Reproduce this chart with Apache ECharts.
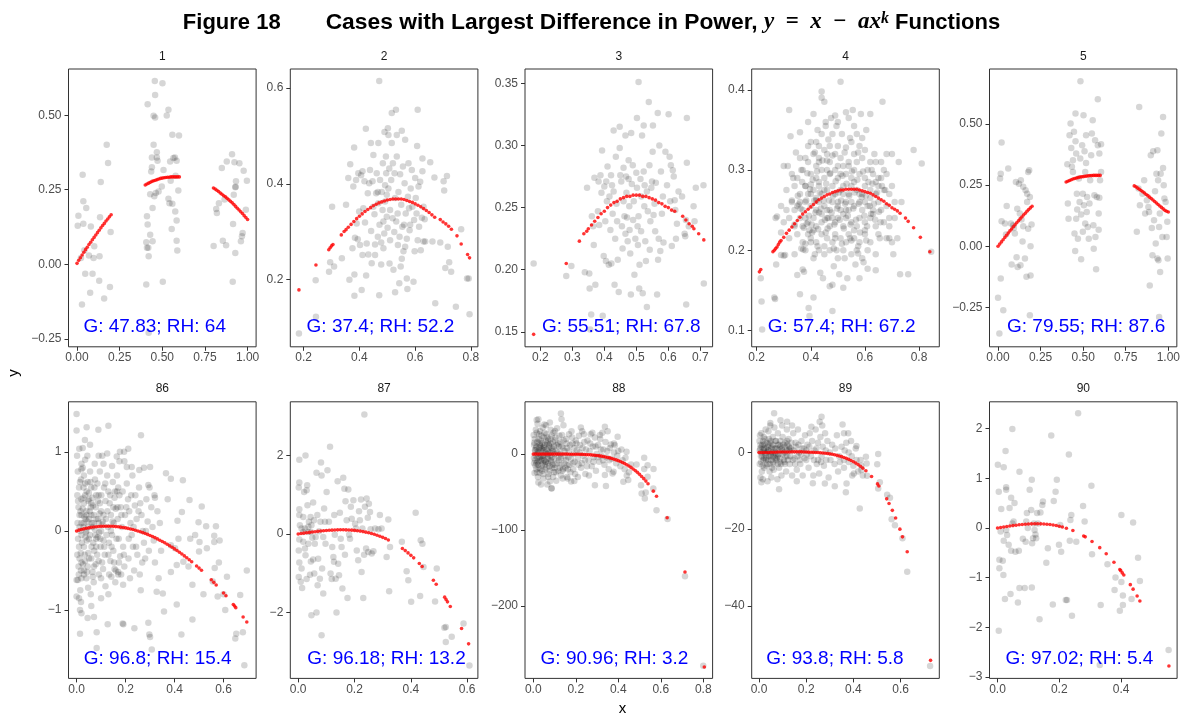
<!DOCTYPE html>
<html>
<head>
<meta charset="utf-8">
<script src="https://cdn.jsdelivr.net/npm/echarts@6/dist/echarts.min.js"></script>
<style>html,body{margin:0;padding:0;background:#fff;}#chart{width:1183px;height:715px;}</style>
</head>
<body>
<div id="chart"></div>
<script>
// ---------------- DATA ----------------
const PANEL_NAMES = ['1','2','3','4','5','86','87','88','89','90'];
const ANNOTATIONS = ['G: 47.83; RH: 64','G: 37.4; RH: 52.2','G: 55.51; RH: 67.8','G: 57.4; RH: 67.2','G: 79.55; RH: 87.6',
  'G: 96.8; RH: 15.4','G: 96.18; RH: 13.2','G: 90.96; RH: 3.2','G: 93.8; RH: 5.8','G: 97.02; RH: 5.4'];
const X_TICK_LABELS = [
  ['0.00','0.25','0.50','0.75','1.00'], ['0.2','0.4','0.6','0.8'], ['0.2','0.3','0.4','0.5','0.6','0.7'],
  ['0.2','0.4','0.6','0.8'], ['0.00','0.25','0.50','0.75','1.00'],
  ['0.0','0.2','0.4','0.6'], ['0.0','0.2','0.4','0.6'], ['0.0','0.2','0.4','0.6','0.8'],
  ['0.0','0.2','0.4','0.6'], ['0.0','0.2','0.4']];
const Y_TICK_LABELS = [
  ['−0.25','0.00','0.25','0.50'], ['0.2','0.4','0.6'], ['0.15','0.20','0.25','0.30','0.35'],
  ['0.1','0.2','0.3','0.4'], ['−0.25','0.00','0.25','0.50'],
  ['−1','0','1'], ['−2','0','2'], ['−200','−100','0'], ['−40','−20','0'], ['−3','−2','−1','0','1','2']];

const P1_OBS = [[0.004,0.129],[0.008,0.163],[0.029,-0.135],[0.033,0.300],[0.037,0.211],[0.037,0.136],[0.043,0.047],[0.048,-0.032],[0.054,0.189],[0.070,0.029],[0.081,0.127],[0.077,-0.096],[0.091,-0.032],[0.101,0.060],[0.097,0.021],[0.130,-0.055],[0.132,0.027],[0.135,0.158],[0.139,0.276],[0.159,-0.115],[0.174,0.401],[0.182,0.340],[0.193,-0.076],[0.197,0.108],[0.023,0.021],
 [0.406,-0.068],[0.410,0.161],[0.414,0.537],[0.414,0.133],[0.406,0.074],[0.410,0.055],[0.418,0.055],[0.420,0.027],[0.429,0.235],[0.429,0.099],[0.435,0.311],[0.439,0.325],[0.439,0.358],[0.443,0.189],[0.443,0.077],[0.449,0.401],[0.449,0.498],[0.456,0.615],[0.458,0.492],[0.458,0.568],[0.453,0.228],[0.462,0.239],[0.468,0.376],[0.468,0.358],[0.472,0.347],[0.420,-0.230],[0.497,0.261],[0.501,0.607],[0.503,-0.059],[0.507,0.316],[0.526,0.499],[0.536,0.518],[0.536,0.220],[0.542,0.205],[0.546,0.345],[0.549,0.280],[0.555,0.118],[0.559,0.203],[0.559,0.434],[0.565,0.356],[0.574,0.358],[0.576,0.177],[0.584,0.347],[0.584,0.147],[0.584,0.079],[0.588,0.046],[0.594,0.247],[0.598,0.432],[0.578,0.297],[0.478,0.244],
 [0.801,0.061],[0.816,0.185],[0.820,0.172],[0.832,0.205],[0.849,0.323],[0.855,0.079],[0.865,0.217],[0.874,0.064],[0.878,0.345],[0.909,0.369],[0.913,-0.059],[0.915,0.135],[0.919,0.233],[0.923,0.342],[0.928,0.038],[0.928,0.258],[0.930,0.260],[0.932,0.278],[0.952,0.339],[0.961,0.077],[0.967,0.094],[0.971,0.105],[0.977,0.314],[0.990,0.183],[0.996,0.280]];
const P1_FIT = [[0,0.003],[0.01,0.013],[0.02,0.022],[0.03,0.031],[0.04,0.040],[0.05,0.049],[0.06,0.057],[0.07,0.066],[0.08,0.074],[0.09,0.082],[0.10,0.090],[0.11,0.098],[0.12,0.106],[0.13,0.114],[0.14,0.122],[0.15,0.130],[0.16,0.137],[0.17,0.145],[0.18,0.152],[0.19,0.159],[0.20,0.166],
 [0.40,0.266],[0.41,0.269],[0.42,0.272],[0.43,0.275],[0.44,0.278],[0.45,0.280],[0.46,0.282],[0.47,0.284],[0.48,0.286],[0.49,0.288],[0.50,0.289],[0.51,0.290],[0.52,0.291],[0.53,0.292],[0.54,0.292],[0.55,0.293],[0.56,0.293],[0.57,0.293],[0.58,0.293],[0.59,0.293],[0.60,0.293],
 [0.80,0.256],[0.81,0.252],[0.82,0.248],[0.83,0.244],[0.84,0.239],[0.85,0.235],[0.86,0.230],[0.87,0.226],[0.88,0.221],[0.89,0.216],[0.90,0.211],[0.91,0.206],[0.92,0.200],[0.93,0.194],[0.94,0.188],[0.95,0.182],[0.96,0.176],[0.97,0.170],[0.98,0.163],[0.99,0.157],[1.00,0.150]];

const P2_OBS = [[0.183,0.087],[0.243,0.198],[0.244,0.122],[0.291,0.216],[0.295,0.236],[0.302,0.352],[0.309,0.227],[0.337,0.244],[0.352,0.356],[0.360,0.412],[0.364,0.199],[0.367,0.441],[0.375,0.265],[0.378,0.394],[0.381,0.476],[0.382,0.210],[0.382,0.166],[0.384,0.287],[0.388,0.408],[0.390,0.317],[0.394,0.284],[0.396,0.422],[0.399,0.342],[0.402,0.272],[0.406,0.418],[0.408,0.178],[0.411,0.426],[0.411,0.251],[0.414,0.349],[0.418,0.405],[0.420,0.319],[0.423,0.515],[0.424,0.208],[0.426,0.275],[0.430,0.380],[0.432,0.252],[0.435,0.401],[0.438,0.429],[0.441,0.485],[0.442,0.301],[0.444,0.234],[0.447,0.405],[0.450,0.460],[0.450,0.352],[0.454,0.336],[0.456,0.273],[0.456,0.251],[0.460,0.380],[0.462,0.422],[0.466,0.383],[0.466,0.289],[0.468,0.485],[0.468,0.359],[0.471,0.615],[0.471,0.167],[0.472,0.314],[0.474,0.408],[0.478,0.277],[0.478,0.231],[0.480,0.383],[0.483,0.345],[0.484,0.443],[0.486,0.321],[0.486,0.265],[0.489,0.296],[0.490,0.508],[0.492,0.397],[0.492,0.363],[0.495,0.457],[0.496,0.422],[0.498,0.377],[0.498,0.331],[0.501,0.308],[0.502,0.516],[0.504,0.390],[0.504,0.502],[0.507,0.432],[0.508,0.233],[0.510,0.345],[0.510,0.282],[0.514,0.408],[0.516,0.485],[0.516,0.548],[0.519,0.328],[0.520,0.443],[0.522,0.220],[0.525,0.299],[0.526,0.422],[0.528,0.173],[0.528,0.370],[0.531,0.555],[0.532,0.321],[0.534,0.502],[0.534,0.457],[0.537,0.338],[0.538,0.272],[0.540,0.383],[0.543,0.192],[0.544,0.289],[0.546,0.420],[0.548,0.227],[0.550,0.356],[0.552,0.511],[0.552,0.243],[0.554,0.310],[0.556,0.436],[0.558,0.259],[0.560,0.314],[0.562,0.401],[0.564,0.492],[0.564,0.268],[0.566,0.338],[0.570,0.202],[0.570,0.285],[0.572,0.180],[0.574,0.373],[0.576,0.443],[0.578,0.349],[0.580,0.303],[0.582,0.314],[0.584,0.390],[0.588,0.429],[0.590,0.352],[0.594,0.195],[0.596,0.324],[0.598,0.259],[0.600,0.412],[0.602,0.370],[0.605,0.338],[0.607,0.479],[0.609,0.282],[0.609,0.555],[0.612,0.394],[0.614,0.310],[0.618,0.404],[0.620,0.261],[0.624,0.329],[0.626,0.453],[0.626,0.426],[0.630,0.352],[0.630,0.279],[0.634,0.326],[0.636,0.279],[0.654,0.445],[0.662,0.279],[0.669,0.413],[0.672,0.150],[0.690,0.277],[0.702,0.405],[0.704,0.386],[0.708,0.224],[0.714,0.416],[0.717,0.268],[0.722,0.236],[0.729,0.216],[0.746,0.143],[0.765,0.305],[0.786,0.202],[0.792,0.202],[0.795,0.127]];
const P2_FIT = [[0.183,0.178],[0.244,0.230],[0.290,0.262],[0.295,0.266],[0.300,0.270],[0.305,0.273],[0.335,0.293],[0.345,0.300],[0.352,0.304],[0.36,0.309],[0.37,0.315],[0.38,0.321],[0.39,0.327],[0.40,0.332],[0.41,0.337],[0.42,0.342],[0.43,0.346],[0.44,0.350],[0.45,0.354],[0.46,0.357],[0.47,0.360],[0.48,0.362],[0.49,0.364],[0.50,0.366],[0.51,0.367],[0.52,0.368],[0.53,0.368],[0.54,0.368],[0.55,0.368],[0.56,0.367],[0.57,0.365],[0.58,0.363],[0.59,0.361],[0.60,0.358],[0.61,0.355],[0.62,0.352],[0.63,0.348],[0.64,0.344],[0.65,0.340],[0.66,0.335],[0.67,0.330],[0.69,0.325],[0.70,0.320],[0.71,0.316],[0.72,0.311],[0.73,0.305],[0.75,0.291],[0.765,0.274],[0.788,0.252],[0.795,0.245]];

const P3_OBS = [[0.179,0.205],[0.281,0.195],[0.297,0.203],[0.339,0.198],[0.346,0.266],[0.353,0.197],[0.354,0.185],[0.359,0.164],[0.361,0.243],[0.365,0.235],[0.367,0.220],[0.369,0.274],[0.372,0.188],[0.380,0.247],[0.382,0.271],[0.384,0.236],[0.388,0.276],[0.391,0.262],[0.393,0.296],[0.395,0.163],[0.398,0.211],[0.400,0.267],[0.403,0.239],[0.405,0.207],[0.406,0.271],[0.408,0.255],[0.410,0.283],[0.414,0.204],[0.416,0.259],[0.419,0.232],[0.421,0.276],[0.422,0.205],[0.424,0.268],[0.426,0.245],[0.429,0.312],[0.429,0.263],[0.432,0.188],[0.434,0.225],[0.436,0.291],[0.438,0.253],[0.440,0.239],[0.442,0.208],[0.445,0.182],[0.448,0.298],[0.448,0.315],[0.450,0.276],[0.453,0.271],[0.455,0.235],[0.457,0.217],[0.460,0.255],[0.460,0.282],[0.463,0.243],[0.466,0.229],[0.466,0.308],[0.468,0.275],[0.469,0.262],[0.471,0.242],[0.473,0.223],[0.476,0.273],[0.476,0.288],[0.478,0.251],[0.479,0.232],[0.481,0.213],[0.483,0.180],[0.484,0.310],[0.486,0.269],[0.489,0.284],[0.490,0.240],[0.492,0.255],[0.494,0.196],[0.497,0.225],[0.500,0.278],[0.502,0.266],[0.502,0.322],[0.504,0.235],[0.505,0.220],[0.507,0.351],[0.507,0.243],[0.509,0.185],[0.510,0.204],[0.513,0.273],[0.515,0.231],[0.516,0.259],[0.518,0.308],[0.520,0.181],[0.523,0.316],[0.523,0.279],[0.525,0.251],[0.526,0.268],[0.528,0.223],[0.530,0.207],[0.533,0.170],[0.533,0.263],[0.536,0.247],[0.539,0.335],[0.541,0.284],[0.542,0.216],[0.544,0.239],[0.547,0.266],[0.549,0.271],[0.551,0.295],[0.552,0.316],[0.554,0.244],[0.557,0.253],[0.559,0.231],[0.561,0.270],[0.565,0.180],[0.567,0.326],[0.568,0.208],[0.570,0.225],[0.572,0.300],[0.575,0.215],[0.577,0.279],[0.580,0.245],[0.583,0.259],[0.585,0.222],[0.591,0.295],[0.596,0.268],[0.601,0.325],[0.604,0.291],[0.606,0.255],[0.608,0.284],[0.611,0.219],[0.614,0.280],[0.617,0.275],[0.620,0.256],[0.622,0.248],[0.624,0.225],[0.627,0.237],[0.632,0.263],[0.643,0.259],[0.651,0.229],[0.653,0.227],[0.655,0.240],[0.656,0.172],[0.658,0.286],[0.658,0.322],[0.664,0.235],[0.679,0.251],[0.682,0.239],[0.686,0.266],[0.710,0.268],[0.711,0.189],[0.356,0.152]];
const P3_FIT = [[0.179,0.148],[0.281,0.205],[0.322,0.223],[0.336,0.229],[0.345,0.231],[0.35,0.233],[0.36,0.236],[0.37,0.239],[0.38,0.242],[0.39,0.245],[0.40,0.247],[0.41,0.250],[0.42,0.252],[0.43,0.254],[0.44,0.255],[0.45,0.257],[0.46,0.258],[0.47,0.259],[0.48,0.259],[0.49,0.260],[0.50,0.260],[0.51,0.260],[0.52,0.259],[0.53,0.259],[0.54,0.258],[0.55,0.257],[0.56,0.256],[0.57,0.254],[0.58,0.253],[0.59,0.251],[0.60,0.250],[0.61,0.248],[0.62,0.247],[0.645,0.243],[0.655,0.240],[0.665,0.237],[0.675,0.235],[0.68,0.233],[0.695,0.229],[0.711,0.224]];

const P4_OBS = [[0.215,0.165],[0.218,0.136],[0.22,0.101],[0.265,0.141],[0.268,0.139],[0.272,0.182],[0.27,0.24],[0.275,0.242],[0.29,0.222],[0.29,0.194],[0.30,0.193],[0.305,0.194],[0.30,0.305],[0.315,0.305],[0.32,0.375],[0.325,0.342],[0.33,0.262],[0.335,0.29],[0.34,0.25],[0.34,0.232],[0.345,0.322],[0.35,0.169],[0.355,0.257],[0.36,0.347],[0.36,0.145],[0.365,0.202],[0.37,0.176],[0.372,0.201],[0.375,0.173],[0.38,0.28],[0.38,0.315],[0.385,0.233],[0.39,0.36],[0.39,0.33],[0.392,0.128],[0.395,0.118],[0.40,0.282],[0.40,0.21],[0.405,0.222],[0.41,0.37],[0.41,0.141],[0.415,0.195],[0.42,0.335],[0.42,0.262],[0.425,0.35],[0.43,0.247],[0.43,0.31],[0.435,0.172],[0.44,0.398],[0.44,0.39],[0.445,0.165],[0.45,0.385],[0.45,0.205],[0.455,0.36],[0.46,0.32],[0.465,0.24],[0.47,0.155],[0.475,0.365],[0.48,0.157],[0.48,0.124],[0.485,0.18],[0.49,0.368],[0.495,0.2],[0.50,0.36],[0.505,0.17],[0.51,0.41],[0.515,0.345],[0.52,0.153],[0.525,0.19],[0.53,0.372],[0.535,0.165],[0.54,0.365],[0.545,0.34],[0.55,0.212],[0.555,0.375],[0.56,0.355],[0.565,0.182],[0.57,0.345],[0.575,0.196],[0.58,0.165],[0.585,0.37],[0.59,0.34],[0.595,0.185],[0.60,0.225],[0.605,0.35],[0.61,0.177],[0.62,0.37],[0.625,0.30],[0.63,0.245],[0.635,0.32],[0.64,0.175],[0.65,0.29],[0.655,0.215],[0.66,0.31],[0.665,0.385],[0.67,0.30],[0.675,0.275],[0.68,0.32],[0.69,0.215],[0.69,0.23],[0.70,0.32],[0.705,0.195],[0.71,0.24],[0.72,0.215],[0.725,0.31],[0.73,0.17],[0.735,0.26],[0.76,0.17],[0.78,0.325],[0.81,0.308],[0.845,0.198],
 [0.40,0.335],[0.43,0.33],[0.45,0.325],[0.47,0.33],[0.49,0.32],[0.50,0.33],[0.53,0.328],[0.55,0.335],[0.58,0.33],[0.60,0.325],[0.44,0.345],[0.48,0.345],
 [0.36,0.315],[0.39,0.31],[0.41,0.32],[0.43,0.315],[0.46,0.312],[0.48,0.318],[0.51,0.315],[0.52,0.305],[0.54,0.31],[0.56,0.32],[0.57,0.31],[0.59,0.315],[0.62,0.31],[0.64,0.31],
 [0.33,0.295],[0.35,0.29],[0.37,0.30],[0.40,0.295],[0.42,0.29],[0.44,0.30],[0.45,0.29],[0.47,0.295],[0.49,0.30],[0.50,0.29],[0.53,0.295],[0.55,0.29],[0.56,0.30],[0.58,0.295],[0.60,0.29],[0.61,0.30],[0.63,0.295],[0.66,0.29],[0.68,0.295],
 [0.31,0.275],[0.34,0.28],[0.36,0.27],[0.38,0.28],[0.39,0.27],[0.41,0.275],[0.43,0.28],[0.44,0.27],[0.46,0.275],[0.48,0.28],[0.49,0.27],[0.51,0.275],[0.52,0.28],[0.54,0.27],[0.55,0.28],[0.57,0.275],[0.59,0.27],[0.60,0.28],[0.62,0.275],[0.64,0.27],[0.65,0.28],[0.67,0.275],[0.69,0.27],[0.70,0.28],
 [0.29,0.255],[0.31,0.25],[0.33,0.26],[0.35,0.255],[0.37,0.25],[0.38,0.26],[0.40,0.255],[0.42,0.25],[0.43,0.26],[0.45,0.255],[0.46,0.25],[0.48,0.26],[0.50,0.255],[0.51,0.25],[0.53,0.26],[0.54,0.25],[0.56,0.255],[0.58,0.26],[0.59,0.25],[0.61,0.255],[0.63,0.25],[0.65,0.26],[0.66,0.25],[0.68,0.255],[0.71,0.26],
 [0.30,0.235],[0.32,0.24],[0.34,0.23],[0.36,0.24],[0.37,0.23],[0.39,0.235],[0.41,0.24],[0.42,0.23],[0.44,0.235],[0.46,0.24],[0.47,0.23],[0.49,0.235],[0.50,0.24],[0.52,0.23],[0.53,0.24],[0.55,0.235],[0.57,0.23],[0.58,0.24],[0.60,0.235],[0.62,0.24],[0.64,0.23],[0.67,0.235],[0.69,0.24],
 [0.32,0.215],[0.35,0.22],[0.37,0.21],[0.39,0.22],[0.40,0.215],[0.42,0.21],[0.44,0.22],[0.46,0.215],[0.48,0.21],[0.49,0.22],[0.51,0.215],[0.53,0.21],[0.54,0.22],[0.56,0.215],[0.58,0.21],[0.60,0.22],[0.62,0.21],[0.65,0.22],[0.68,0.215],[0.70,0.21],
 [0.34,0.195],[0.38,0.20],[0.41,0.19],[0.43,0.20],[0.45,0.195],[0.47,0.20],[0.50,0.19],[0.52,0.20],[0.55,0.195],[0.57,0.20],[0.59,0.19],[0.61,0.20],[0.64,0.195],
 [0.40,0.27],[0.42,0.265],[0.45,0.275],[0.47,0.25],[0.50,0.26],[0.52,0.27],[0.55,0.26],[0.44,0.245],[0.48,0.24],[0.53,0.25],[0.46,0.30],[0.51,0.295],[0.56,0.285],[0.38,0.24],[0.36,0.26],[0.58,0.27],[0.60,0.26],[0.42,0.305],[0.54,0.305],[0.41,0.225],[0.49,0.215],[0.56,0.225],[0.62,0.265],[0.64,0.285],[0.47,0.31],[0.50,0.305],[0.43,0.285],[0.52,0.245],
 [0.352,0.268],[0.362,0.252],[0.368,0.285],[0.374,0.228],[0.383,0.262],[0.387,0.296],[0.393,0.243],[0.397,0.276],[0.403,0.232],[0.407,0.288],[0.413,0.262],[0.417,0.247],[0.423,0.298],[0.427,0.226],[0.433,0.272],[0.437,0.252],[0.443,0.312],[0.447,0.262],[0.452,0.238],[0.457,0.283],[0.462,0.227],[0.467,0.262],[0.472,0.296],[0.477,0.247],[0.482,0.268],[0.487,0.232],[0.492,0.286],[0.497,0.252],[0.503,0.272],[0.507,0.238],[0.512,0.262],[0.517,0.293],[0.522,0.227],[0.527,0.258],[0.532,0.283],[0.537,0.243],[0.542,0.268],[0.547,0.232],[0.552,0.298],[0.557,0.252],[0.562,0.272],[0.567,0.238],[0.572,0.288],[0.577,0.258],[0.582,0.222],[0.588,0.266],[0.593,0.298],[0.598,0.243],[0.603,0.268],[0.608,0.23],[0.613,0.285],[0.618,0.255],[0.623,0.245],[0.628,0.283],[0.633,0.258],[0.638,0.238],[0.645,0.272],[0.652,0.248],[0.658,0.235],[0.663,0.28],[0.38,0.208],[0.395,0.225],[0.425,0.205],[0.455,0.222],[0.485,0.202],[0.515,0.208],[0.545,0.215],[0.575,0.205],[0.605,0.212],[0.365,0.3],[0.415,0.322],[0.465,0.338],[0.525,0.322],[0.575,0.322],[0.495,0.355],[0.455,0.355]];
const P4_FIT = [[0.21,0.173],[0.215,0.176],[0.26,0.198],[0.265,0.200],[0.27,0.202],[0.275,0.204],[0.28,0.207],[0.285,0.210],[0.29,0.212],[0.30,0.216],[0.31,0.221],[0.32,0.225],[0.33,0.229],[0.34,0.233],[0.35,0.237],[0.36,0.241],[0.37,0.245],[0.38,0.248],[0.39,0.251],[0.40,0.254],[0.41,0.257],[0.42,0.260],[0.43,0.263],[0.44,0.265],[0.45,0.267],[0.46,0.269],[0.47,0.270],[0.48,0.272],[0.49,0.273],[0.50,0.274],[0.51,0.275],[0.52,0.275],[0.53,0.276],[0.54,0.276],[0.55,0.276],[0.56,0.276],[0.57,0.276],[0.58,0.275],[0.59,0.274],[0.60,0.273],[0.61,0.272],[0.62,0.271],[0.63,0.269],[0.64,0.267],[0.65,0.265],[0.66,0.263],[0.67,0.261],[0.68,0.258],[0.69,0.256],[0.70,0.253],[0.71,0.251],[0.72,0.249],[0.73,0.246],[0.75,0.240],[0.76,0.236],[0.78,0.228],[0.805,0.216],[0.84,0.198]];

const P5_OBS = [[0.000,-0.210],[0.008,-0.357],[0.012,0.277],[0.016,0.297],[0.021,0.424],[0.016,-0.132],[0.021,0.102],[0.031,-0.262],[0.041,0.093],[0.047,0.048],[0.051,0.165],[0.060,0.318],[0.076,0.093],[0.080,-0.074],[0.089,0.086],[0.093,0.075],[0.099,0.052],[0.105,0.263],[0.109,-0.045],[0.113,0.154],[0.115,-0.085],[0.123,0.256],[0.128,0.134],[0.132,-0.078],[0.134,0.270],[0.138,0.110],[0.144,0.020],[0.148,0.082],[0.148,0.243],[0.158,-0.050],[0.162,0.229],[0.167,-0.125],[0.171,0.181],[0.177,0.072],[0.177,0.304],[0.183,0.311],[0.187,0.202],[0.191,-0.119],[0.191,0.000],[0.197,0.089],[0.187,-0.282],[0.171,0.215],
 [0.407,0.335],[0.410,0.175],[0.414,0.113],[0.420,0.454],[0.426,0.502],[0.430,0.402],[0.434,0.325],[0.440,0.352],[0.440,0.304],[0.446,0.468],[0.449,0.052],[0.453,-0.019],[0.455,0.543],[0.455,0.430],[0.459,0.379],[0.459,0.113],[0.463,0.215],[0.465,0.150],[0.469,0.031],[0.475,0.277],[0.479,0.181],[0.483,0.359],[0.484,0.675],[0.488,0.130],[0.488,-0.053],[0.494,0.413],[0.498,0.215],[0.498,0.059],[0.502,0.536],[0.504,0.168],[0.508,0.389],[0.512,0.304],[0.512,0.093],[0.517,0.341],[0.517,0.454],[0.521,0.140],[0.523,0.202],[0.527,0.079],[0.533,0.031],[0.537,0.175],[0.541,0.270],[0.547,0.372],[0.551,0.461],[0.556,0.515],[0.560,0.086],[0.562,-0.010],[0.566,0.209],[0.570,0.434],[0.572,0.038],[0.576,-0.094],[0.580,0.202],[0.586,0.413],[0.586,0.601],[0.591,0.068],[0.595,0.379],[0.599,0.270],[0.595,0.198],[0.591,0.134],[0.605,0.417],[0.605,0.304],
 [0.815,0.059],[0.829,0.570],[0.825,0.236],[0.833,0.168],[0.848,0.215],[0.858,0.270],[0.864,0.134],[0.874,0.188],[0.883,0.161],[0.887,0.140],[0.891,-0.160],[0.897,0.372],[0.903,0.075],[0.907,-0.037],[0.911,0.389],[0.916,0.106],[0.922,0.225],[0.926,0.011],[0.930,0.297],[0.936,0.393],[0.936,-0.050],[0.940,0.270],[0.942,-0.057],[0.946,0.079],[0.950,0.134],[0.952,-0.105],[0.955,0.297],[0.959,0.461],[0.965,0.038],[0.969,0.529],[0.969,0.320],[0.973,0.250],[0.977,0.195],[0.984,0.181],[0.990,0.038],[0.994,0.100],[0.996,-0.050],[0.946,-0.289]];
const P5_FIT = [[0,0.0],[0.01,0.009],[0.02,0.018],[0.03,0.027],[0.04,0.036],[0.05,0.045],[0.06,0.054],[0.07,0.063],[0.08,0.071],[0.09,0.080],[0.10,0.088],[0.11,0.096],[0.12,0.104],[0.13,0.112],[0.14,0.120],[0.15,0.128],[0.16,0.135],[0.17,0.143],[0.18,0.150],[0.19,0.157],[0.20,0.164],
 [0.40,0.263],[0.41,0.266],[0.42,0.269],[0.43,0.272],[0.44,0.275],[0.45,0.277],[0.46,0.279],[0.47,0.281],[0.48,0.283],[0.49,0.284],[0.50,0.285],[0.51,0.286],[0.52,0.287],[0.53,0.288],[0.54,0.289],[0.55,0.289],[0.56,0.290],[0.57,0.290],[0.58,0.290],[0.59,0.290],[0.60,0.290],
 [0.80,0.247],[0.81,0.243],[0.82,0.238],[0.83,0.233],[0.84,0.228],[0.85,0.223],[0.86,0.218],[0.87,0.212],[0.88,0.207],[0.89,0.201],[0.90,0.195],[0.91,0.189],[0.92,0.183],[0.93,0.177],[0.94,0.171],[0.95,0.165],[0.96,0.159],[0.97,0.153],[0.98,0.147],[0.99,0.143],[1.00,0.140]];

const P86_OBS = [[0.0,1.48],[0.0,1.27],[0.011,1.04],[0.041,1.31],[0.034,1.15],[0.055,1.09],[0.089,1.28],[0.130,1.33],[0.125,0.98],[0.164,0.94],[0.177,1.0],[0.194,1.0],[0.211,1.04],[0.195,0.88],[0.205,0.81],[0.225,0.81],[0.263,1.21],[0.256,0.77],[0.275,0.8],[0.30,0.81],[0.365,0.73],[0.385,0.66],[0.434,0.64],[0.293,0.58],[0.372,0.40],[0.32,0.42],[0.412,0.13],[0.43,0.24],[0.461,0.39],[0.511,0.31],[0.498,0.11],[0.529,0.06],[0.569,0.06],[0.484,-0.05],[0.502,-0.14],[0.464,-0.10],[0.416,-0.10],[0.385,-0.18],[0.402,-0.22],[0.436,-0.39],[0.409,-0.43],[0.385,-0.52],[0.457,-0.45],[0.50,-0.26],[0.562,-0.14],[0.564,-0.47],[0.581,-0.40],[0.556,-0.64],[0.60,-0.80],[0.607,-1.0],[0.614,-0.58],[0.576,-0.83],[0.518,-0.80],[0.473,-0.68],[0.473,-1.12],[0.428,-1.31],[0.409,-0.93],[0.352,-0.79],[0.357,-1.02],[0.327,-0.77],[0.293,-1.16],[0.297,-1.31],[0.30,-1.34],[0.307,-1.50],[0.236,-1.23],[0.188,-1.17],[0.191,-1.18],[0.127,-1.18],[0.082,-1.28],[0.082,-1.48],[0.071,-1.09],[0.014,-1.30],[0.014,-1.0],[0.02,-1.04],[0.0,-0.62],[0.0,-0.83],[0.685,-1.70],[0.652,-1.30],[0.648,-1.36],[0.679,-1.28],[0.695,-0.50],[0.668,-0.81],[0.532,-0.22],[0.584,-0.12],[0.562,-0.06],
 [0.002,0.95],[0.005,0.75],[0.01,0.55],[0.003,0.45],[0.008,0.3],[0.012,0.2],[0.004,0.1],[0.015,0.0],[0.006,-0.1],[0.01,-0.2],[0.003,-0.3],[0.012,-0.35],[0.008,-0.45],[0.018,-0.5],[0.005,-0.62],[0.015,-0.75],[0.01,-0.85],[0.02,0.85],[0.018,0.65],[0.02,0.4],[0.016,0.25],[0.02,0.1],[0.02,-0.05],[0.017,-0.28],[0.02,-0.6],
 [0.025,0.8],[0.03,0.7],[0.028,0.55],[0.035,0.45],[0.03,0.35],[0.04,0.25],[0.032,0.18],[0.045,0.12],[0.028,0.05],[0.038,-0.02],[0.042,-0.12],[0.03,-0.2],[0.048,-0.28],[0.035,-0.38],[0.045,-0.45],[0.03,-0.55],[0.04,-0.6],[0.047,-0.72],[0.035,0.9],[0.045,0.62],[0.048,0.38],[0.025,0.28],[0.04,0.2],[0.036,-0.08],[0.026,-0.42],[0.044,0.95],
 [0.055,0.75],[0.06,0.55],[0.065,0.42],[0.058,0.3],[0.07,0.2],[0.062,0.1],[0.075,0.02],[0.055,-0.05],[0.068,-0.15],[0.072,-0.25],[0.06,-0.35],[0.078,-0.42],[0.065,-0.52],[0.07,-0.65],[0.058,-0.8],[0.075,0.65],[0.08,0.45],[0.052,0.15],[0.078,0.3],[0.066,-0.58],[0.05,0.48],[0.08,-0.1],[0.074,0.85],
 [0.085,0.6],[0.09,0.45],[0.095,0.35],[0.1,0.25],[0.088,0.15],[0.105,0.08],[0.092,-0.02],[0.11,-0.12],[0.098,-0.2],[0.115,-0.3],[0.09,-0.38],[0.108,-0.48],[0.1,-0.6],[0.118,-0.7],[0.095,0.75],[0.112,0.55],[0.118,0.38],[0.086,-0.08],[0.12,0.15],[0.1,-0.85],[0.105,0.95],
 [0.125,0.7],[0.13,0.5],[0.135,0.35],[0.14,0.2],[0.128,0.05],[0.145,-0.05],[0.132,-0.15],[0.15,-0.25],[0.138,-0.38],[0.155,-0.48],[0.142,-0.58],[0.158,-0.65],[0.148,0.62],[0.155,0.42],[0.16,0.28],[0.152,0.1],[0.145,0.82],[0.13,-0.8],
 [0.165,0.7],[0.17,0.55],[0.175,0.45],[0.18,0.3],[0.168,0.15],[0.185,0.05],[0.172,-0.1],[0.19,-0.2],[0.178,-0.32],[0.195,-0.45],[0.182,-0.55],[0.17,-0.52],[0.188,0.5],[0.198,0.2],[0.175,0.88],[0.19,-0.68],
 [0.205,0.6],[0.21,0.4],[0.215,0.25],[0.22,0.1],[0.225,-0.05],[0.23,-0.2],[0.212,-0.35],[0.235,-0.5],[0.24,0.45],[0.245,0.15],[0.218,-0.6],[0.228,0.7],[0.248,-0.3],[0.238,0.32],
 [0.255,0.55],[0.26,0.35],[0.265,0.2],[0.27,0.0],[0.275,-0.15],[0.28,-0.35],[0.258,-0.55],[0.285,0.4],[0.29,0.12],[0.295,-0.25],[0.262,-0.75],[0.298,0.55],
 [0.305,0.3],[0.31,0.05],[0.315,-0.12],[0.32,-0.4],[0.33,0.25],[0.335,-0.6],[0.34,0.1],[0.345,-0.25],[0.318,0.45],
 [0.02,0.2],[0.03,0.1],[0.04,0.0],[0.05,-0.1],[0.06,0.2],[0.07,0.1],[0.08,-0.2],[0.09,0.1],[0.1,0.0],[0.11,0.2],[0.13,-0.3],[0.14,0.0],[0.16,-0.5],[0.17,-0.55],[0.02,-0.4],[0.03,-0.5],[0.05,0.4],[0.06,0.35],[0.15,0.3],[0.165,0.5],[0.02,0.78],[0.035,0.6],
 [0.006,0.38],[0.012,0.05],[0.009,-0.55],[0.014,0.62],[0.022,-0.15],[0.027,0.42],[0.033,-0.3],[0.037,0.15],[0.041,0.5],[0.043,-0.52],[0.047,0.05],[0.051,-0.35],[0.054,0.25],[0.057,0.62],[0.061,-0.2],[0.064,0.05],[0.067,0.32],[0.071,-0.45],[0.073,0.55],[0.077,-0.05],[0.081,0.15],[0.084,-0.3],[0.087,0.38],[0.091,-0.55],[0.094,0.22],[0.097,-0.1],[0.101,0.45],[0.104,-0.4],[0.107,0.12],[0.113,-0.2],[0.117,0.6],[0.122,-0.05],[0.126,0.25],[0.133,-0.55],[0.137,0.45],[0.143,-0.2],[0.147,0.12],[0.153,-0.4],[0.157,0.5],[0.163,-0.1],[0.167,0.3],[0.173,-0.4],[0.183,0.2],[0.193,-0.3],[0.203,0.3],[0.213,-0.1],[0.223,0.45],[0.233,0.05],[0.243,-0.2],[0.253,0.25],[0.268,-0.4],[0.283,0.0],[0.018,-0.9],[0.06,-0.95],[0.025,1.05],[0.045,-1.1],[0.11,0.85],[0.09,0.95]];
const P86_FIT = [[0,0],[0.01,0.01],[0.02,0.018],[0.03,0.026],[0.04,0.033],[0.05,0.039],[0.06,0.045],[0.07,0.049],[0.08,0.053],[0.09,0.056],[0.10,0.058],[0.11,0.060],[0.12,0.060],[0.13,0.060],[0.14,0.059],[0.15,0.058],[0.16,0.055],[0.17,0.052],[0.18,0.048],[0.19,0.044],[0.20,0.038],[0.21,0.032],[0.22,0.025],[0.23,0.018],[0.24,0.009],[0.25,0.0],[0.26,-0.010],[0.27,-0.021],[0.28,-0.032],[0.29,-0.044],[0.30,-0.057],[0.31,-0.071],[0.32,-0.085],[0.33,-0.101],[0.34,-0.117],[0.35,-0.133],[0.36,-0.150],[0.37,-0.168],[0.38,-0.187],[0.39,-0.207],[0.40,-0.227],[0.41,-0.248],[0.42,-0.270],[0.43,-0.292],[0.44,-0.316],[0.45,-0.340],[0.46,-0.364],[0.47,-0.390],[0.49,-0.443],[0.50,-0.470],[0.51,-0.498],[0.55,-0.618],[0.56,-0.650],[0.57,-0.683],[0.60,-0.785],[0.61,-0.820],[0.64,-0.931],[0.645,-0.950],[0.65,-0.970],[0.68,-1.089],[0.695,-1.151]];

const P87_OBS = [[0.004,1.89],[0.026,2.0],[0.004,1.31],[0.002,1.18],[0.004,0.63],[0.004,0.48],[0.006,0.22],[0.004,-0.14],[0.002,-0.42],[0.004,-0.73],[0.002,-1.10],[0.009,-1.22],[0.012,-0.88],[0.014,-1.38],[0.018,0.43],[0.018,0.05],[0.021,1.07],[0.024,-0.37],[0.026,-0.54],[0.030,-1.15],[0.030,1.11],[0.032,1.24],[0.033,0.73],[0.036,0.18],[0.036,-0.25],[0.038,0.31],[0.042,-1.04],[0.044,0.43],[0.045,-0.70],[0.047,-2.07],[0.050,-0.10],[0.053,0.80],[0.053,-0.65],[0.056,0.35],[0.057,-1.01],[0.059,-0.25],[0.062,-0.08],[0.065,-2.0],[0.065,1.56],[0.068,0.48],[0.069,-1.31],[0.071,-0.63],[0.074,0.07],[0.077,-1.14],[0.079,0.31],[0.081,1.82],[0.083,1.49],[0.083,-2.58],[0.085,-0.88],[0.089,-1.52],[0.089,-0.08],[0.092,0.65],[0.095,0.31],[0.097,-0.25],[0.101,1.07],[0.104,1.62],[0.109,0.31],[0.113,2.22],[0.115,-1.01],[0.119,-1.15],[0.121,-0.33],[0.125,-0.59],[0.127,-0.71],[0.128,0.48],[0.130,-0.02],[0.133,-1.14],[0.136,-2.0],[0.140,1.34],[0.142,-0.76],[0.145,-1.05],[0.148,0.54],[0.151,-0.12],[0.154,-0.33],[0.157,-1.39],[0.160,1.43],[0.164,1.15],[0.166,-0.53],[0.168,0.83],[0.172,0.35],[0.175,-1.63],[0.178,1.13],[0.181,-0.02],[0.184,-0.12],[0.187,0.69],[0.190,0.39],[0.196,0.86],[0.202,0.26],[0.205,0.14],[0.208,-0.42],[0.213,-0.67],[0.216,0.58],[0.219,0.35],[0.223,0.88],[0.225,-0.97],[0.228,0.14],[0.231,-1.63],[0.234,-0.53],[0.235,3.04],[0.237,0.69],[0.241,-0.37],[0.243,0.90],[0.247,0.41],[0.249,-0.46],[0.251,0.77],[0.255,0.56],[0.257,0.12],[0.261,-0.50],[0.267,-0.44],[0.273,0.14],[0.285,0.12],[0.290,0.48],[0.296,0.14],[0.314,-0.59],[0.320,0.37],[0.323,-1.46],[0.326,-0.33],[0.368,-0.20],[0.385,-0.95],[0.391,-1.18],[0.401,-1.73],[0.417,0.54],[0.433,-1.58],[0.435,-0.16],[0.441,-0.25],[0.445,-0.84],[0.486,-1.72],[0.492,-0.88],[0.524,-2.37],[0.519,-2.39],[0.524,-2.75],[0.545,-2.62],[0.587,-2.28],[0.608,-3.35],[0.012,0.14],[0.018,-0.2],[0.036,0.05],[0.024,0.14],[0.047,0.22],[0.045,0.05]];
const P87_FIT = [[0,0],[0.01,0.01],[0.02,0.02],[0.03,0.03],[0.04,0.039],[0.05,0.048],[0.06,0.057],[0.07,0.066],[0.08,0.074],[0.09,0.081],[0.10,0.087],[0.11,0.093],[0.12,0.097],[0.13,0.101],[0.14,0.104],[0.15,0.105],[0.16,0.105],[0.17,0.103],[0.18,0.101],[0.19,0.096],[0.20,0.090],[0.21,0.082],[0.22,0.072],[0.23,0.060],[0.24,0.046],[0.25,0.030],[0.26,0.012],[0.27,-0.009],[0.28,-0.033],[0.29,-0.058],[0.30,-0.087],[0.31,-0.118],[0.32,-0.153],[0.37,-0.371],[0.38,-0.425],[0.39,-0.483],[0.40,-0.545],[0.41,-0.609],[0.43,-0.752],[0.44,-0.830],[0.48,-1.18],[0.49,-1.28],[0.52,-1.61],[0.525,-1.67],[0.53,-1.73],[0.54,-1.85],[0.58,-2.41],[0.605,-2.80]];

const P88_OBS = [[0.016,44.7],[0.024,46],[0.130,53.5],[0.133,46],[0.052,39],[0.078,41.7],[0.102,30.3],[0.224,35],[0.337,36],[0.314,25],[0.397,22.8],[0.365,12.7],[0.384,11.8],[0.439,3],[0.434,-4.8],[0.46,-13.6],[0.486,-13.6],[0.522,-4.8],[0.538,-14.5],[0.522,-19.7],[0.566,-19.7],[0.424,-36.4],[0.447,-34.2],[0.507,-40.8],[0.51,-51.8],[0.529,-50.4],[0.525,-58.3],[0.565,-45.2],[0.538,-29.8],[0.58,-73.7],[0.632,-85.5],[0.714,-160.5],[0.8,-278.5],[0.086,-45.2],[0.024,-37.3],[0.290,-40.8],[0.193,-35.5],[0.162,-32],[0.373,-25.4],[0.337,-27.6],[0.378,-23.2],
 [0.002,25],[0.005,15],[0.008,5],[0.003,-5],[0.01,-15],[0.006,-25],[0.012,32],[0.015,10],[0.018,0],[0.02,-10],[0.014,-20],[0.025,20],[0.022,-30],[0.028,8],[0.016,28],[0.004,12],[0.009,-8],[0.026,-18],[0.03,-4],[0.02,40],
 [0.032,30],[0.035,18],[0.04,6],[0.038,-3],[0.045,-12],[0.042,-22],[0.048,-32],[0.05,22],[0.055,12],[0.036,-40],[0.058,2],[0.052,-8],[0.044,35],[0.056,-20],[0.034,10],[0.046,-2],
 [0.062,26],[0.065,14],[0.07,4],[0.068,-6],[0.075,-16],[0.072,-26],[0.08,20],[0.085,8],[0.088,-4],[0.09,-14],[0.078,-36],[0.095,28],[0.098,-24],[0.082,32],[0.092,16],[0.066,-40],[0.06,38],[0.1,0],[0.086,-45],
 [0.105,22],[0.11,12],[0.115,2],[0.12,-8],[0.125,-18],[0.13,-28],[0.108,-35],[0.135,25],[0.14,8],[0.145,-12],[0.112,34],[0.128,16],[0.148,-3],[0.118,-22],[0.138,-32],[0.142,38],[0.102,-14],
 [0.155,20],[0.16,8],[0.165,-4],[0.17,-14],[0.175,-24],[0.18,30],[0.185,14],[0.19,0],[0.195,-10],[0.158,-30],[0.168,26],[0.2,18],[0.178,-36],[0.152,-18],[0.188,-20],
 [0.205,5],[0.21,-6],[0.215,24],[0.22,12],[0.225,-18],[0.23,30],[0.235,-2],[0.24,16],[0.245,-26],[0.21,-30],[0.228,-12],[0.248,6],[0.238,26],
 [0.255,18],[0.26,-8],[0.265,4],[0.27,26],[0.275,-16],[0.28,10],[0.285,-4],[0.29,22],[0.295,-22],[0.262,-28],[0.278,28],[0.298,0],
 [0.305,12],[0.31,-10],[0.315,20],[0.32,-2],[0.325,28],[0.33,6],[0.335,-14],[0.34,16],[0.345,-4],[0.35,30],[0.355,-20],[0.36,8],[0.342,-42],
 [0.37,-6],[0.38,14],[0.39,-12],[0.40,4],[0.41,-16],[0.42,-8],[0.43,-20],[0.44,-28],[0.45,-24],[0.38,2],[0.395,-2],[0.415,6],
 [0.01,5],[0.02,-5],[0.03,15],[0.04,-15],[0.05,5],[0.06,-10],[0.07,18],[0.08,-2],[0.09,4],[0.1,-18],[0.12,10],[0.13,-5],[0.015,-12],[0.025,2],[0.035,-8],[0.045,8],[0.055,-14],[0.065,0],[0.075,10],[0.085,-10],[0.14,-20],[0.16,-15],[0.03,-25],[0.07,-30],
 [0.004,-12],[0.007,20],[0.011,-2],[0.013,8],[0.017,-24],[0.019,16],[0.021,3],[0.023,-14],[0.027,26],[0.029,-9],[0.031,12],[0.033,-20],[0.037,4],[0.039,24],[0.041,-6],[0.043,14],[0.047,-26],[0.049,-2],[0.051,10],[0.053,28],[0.057,-10],[0.059,18],[0.061,-18],[0.063,6],[0.067,22],[0.069,-3],[0.071,-12],[0.073,12],[0.077,-22],[0.079,2],[0.081,14],[0.083,-8],[0.087,24],[0.089,-18],[0.091,6],[0.093,-30],[0.097,10],[0.099,-6],[0.103,18],[0.107,-24],[0.109,4],[0.113,-12],[0.117,14],[0.119,-4],[0.123,24],[0.127,0],[0.131,-14],[0.133,10],[0.137,-22],[0.143,18],[0.147,4],[0.153,-8],[0.157,14],[0.163,-20],[0.167,4],[0.173,12],[0.177,-6],[0.183,22],[0.187,-12],[0.193,8],[0.197,-26],[0.203,14],[0.213,-14],[0.218,2],[0.232,8],[0.243,-8],[0.253,-16],[0.268,14],[0.283,-10],[0.293,10],[0.303,-4],[0.318,6],[0.328,-8],[0.348,4],[0.358,-8]];
const P88_FIT = [[0,0],[0.01,0],[0.02,0],[0.03,0],[0.04,0],[0.05,0],[0.06,0],[0.07,0],[0.08,0],[0.09,0],[0.10,0],[0.11,0],[0.12,0],[0.13,0],[0.14,0],[0.15,0],[0.16,0],[0.17,-0.1],[0.18,-0.1],[0.19,-0.1],[0.20,-0.1],[0.21,-0.2],[0.22,-0.3],[0.23,-0.4],[0.24,-0.5],[0.25,-0.7],[0.26,-0.8],[0.27,-1.0],[0.28,-1.3],[0.29,-1.6],[0.30,-1.9],[0.31,-2.3],[0.32,-2.7],[0.33,-3.2],[0.34,-3.8],[0.35,-4.4],[0.36,-5.0],[0.37,-5.8],[0.38,-6.7],[0.39,-7.6],[0.40,-8.6],[0.41,-9.8],[0.42,-11.1],[0.43,-12.5],[0.44,-14.0],[0.45,-15.7],[0.46,-17.5],[0.47,-19.5],[0.48,-21.7],[0.49,-24.0],[0.50,-26.6],[0.51,-29.4],[0.52,-32.3],[0.53,-35.5],[0.54,-39.0],[0.565,-48.7],[0.58,-55.5],[0.63,-83.7],[0.714,-155],[0.805,-280]];

const P89_OBS = [[0.064,10.2],[0.091,8.4],[0.048,7.7],[0.119,8],[0.265,9.3],[0.257,8],[0.222,6.7],[0.354,7.3],[0.378,5],[0.413,1.7],[0.505,-0.4],[0.453,-1.1],[0.456,-2.9],[0.501,-3.1],[0.434,-4.6],[0.458,-6.1],[0.371,-8.1],[0.368,-10.4],[0.427,-14.6],[0.321,-8.8],[0.279,-8.1],[0.085,-9.6],[0.01,-7.8],[0.512,-7.8],[0.505,-9.4],[0.543,-11],[0.555,-11.8],[0.562,-17.4],[0.576,-19],[0.608,-22.4],[0.628,-31.1],[0.725,-55.7],[0.335,-5],[0.402,-5.5],
 [0.002,3],[0.005,1],[0.008,-1],[0.003,-3],[0.01,5],[0.012,-5],[0.015,2],[0.018,-2],[0.006,-6.5],[0.02,4],[0.025,0],[0.022,-4],[0.028,6],[0.016,-7],[0.004,4.5],[0.03,-1.5],
 [0.032,2.5],[0.035,-3],[0.04,5.5],[0.038,0.5],[0.045,-5],[0.042,3.5],[0.05,-1],[0.055,1.5],[0.052,-6.5],[0.058,4],[0.06,-2.5],[0.065,6.5],[0.068,0],[0.048,7],[0.062,-4.5],[0.036,-7.5],
 [0.072,3],[0.075,-1.5],[0.08,5],[0.085,-4],[0.09,1.5],[0.095,-6],[0.1,4],[0.105,-2],[0.11,2.5],[0.115,-5],[0.078,-7],[0.098,7],[0.108,0],[0.118,6],[0.088,-2.5],[0.12,-1],
 [0.125,3.5],[0.13,-3],[0.135,1],[0.14,-6],[0.145,5],[0.15,-1.5],[0.155,2.5],[0.16,-4.5],[0.165,6],[0.17,0],[0.175,-3],[0.18,3],[0.185,-6],[0.19,1],[0.195,4.5],[0.2,-2],[0.14,7],[0.16,-7.5],[0.128,0.5],[0.178,-0.5],
 [0.205,2],[0.21,-4],[0.215,5],[0.22,-1],[0.225,3],[0.23,-6],[0.235,0.5],[0.24,6],[0.245,-3],[0.25,2.5],[0.255,-5.5],[0.26,4],[0.265,-1],[0.27,1.5],[0.275,-3.5],[0.28,5],[0.285,-2],[0.29,3],[0.295,-6.5],[0.3,0],[0.228,-8],[0.268,7],
 [0.31,2],[0.32,-3],[0.33,4.5],[0.34,-1],[0.35,1.5],[0.36,-4],[0.37,2.5],[0.38,-2.5],[0.39,3],[0.4,-3.5],[0.41,1],[0.42,-5],[0.43,-2],[0.44,-6],[0.36,5],[0.395,-6],
 [0.01,0],[0.02,1],[0.03,-2],[0.04,2],[0.05,3],[0.06,-1],[0.07,1],[0.08,-3],[0.1,0.5],[0.12,2],[0.13,1],[0.015,-3.5],[0.025,3.5],[0.045,-3],[0.055,-4],[0.085,2],[0.11,-3],[0.2,0.5],[0.25,-2],[0.36,-2],[0.38,0],
 [0.003,0.5],[0.006,2],[0.009,-2.5],[0.011,1.5],[0.013,-1],[0.017,3],[0.019,0.5],[0.021,-1.5],[0.023,2],[0.027,-0.5],[0.029,1],[0.031,-3.5],[0.033,0],[0.037,1.5],[0.039,-2],[0.041,0.5],[0.043,-1],[0.047,2.5],[0.049,-0.5],[0.051,1],[0.053,-2],[0.057,0],[0.059,2],[0.061,-3],[0.063,1],[0.067,-1.5],[0.069,3],[0.071,-0.5],[0.073,-2],[0.077,1],[0.079,-1],[0.081,2],[0.083,-0.5],[0.087,0.5],[0.089,-1.5],[0.091,3],[0.093,-3],[0.097,1],[0.099,-0.5],[0.103,2],[0.107,-2.5],[0.109,1.5],[0.113,-1],[0.117,0.5],[0.119,3],[0.123,-2],[0.127,1.5],[0.133,-1],[0.137,2.5],[0.143,-2],[0.147,0.5],[0.153,-3],[0.157,1.5],[0.163,-1],[0.167,2],[0.173,-2],[0.183,1],[0.193,-1.5],[0.203,-0.5],[0.213,1.5],[0.233,-2],[0.243,1],[0.263,-2.5],[0.283,0.5],[0.303,-2],[0.323,1],[0.343,-2.5],[0.363,0.5],[0.393,-1],[0.413,-2],[0.433,-3.5]];
const P89_FIT = [[0,0],[0.01,0],[0.02,0],[0.03,0],[0.04,0],[0.05,0.05],[0.06,0.05],[0.07,0.05],[0.08,0.1],[0.09,0.1],[0.10,0.1],[0.11,0.1],[0.12,0.1],[0.13,0.1],[0.14,0.15],[0.15,0.15],[0.16,0.15],[0.17,0.15],[0.18,0.15],[0.19,0.12],[0.20,0.1],[0.21,0.08],[0.22,0.05],[0.23,0.02],[0.24,0.0],[0.25,-0.02],[0.26,-0.08],[0.27,-0.14],[0.28,-0.2],[0.29,-0.28],[0.30,-0.37],[0.31,-0.48],[0.32,-0.61],[0.33,-0.76],[0.34,-0.92],[0.35,-1.1],[0.36,-1.31],[0.37,-1.54],[0.38,-1.80],[0.39,-2.1],[0.40,-2.42],[0.41,-2.78],[0.42,-3.17],[0.43,-3.6],[0.44,-4.09],[0.453,-4.78],[0.477,-6.28],[0.502,-8.2],[0.508,-8.73],[0.541,-12.1],[0.551,-13.3],[0.565,-15.1],[0.579,-17.1],[0.597,-20.0],[0.608,-22.0],[0.628,-25.9],[0.727,-54.2]];

const P90_OBS = [[0.001,1.27],[0.004,0.73],[0.004,-2.07],[0.006,-0.64],[0.006,-0.81],[0.010,-0.07],[0.012,0.38],[0.017,-0.66],[0.019,-0.95],[0.020,1.22],[0.020,-0.26],[0.024,-1.43],[0.026,1.55],[0.028,0.82],[0.028,0.77],[0.028,-0.04],[0.031,-0.14],[0.036,-0.34],[0.039,0.40],[0.042,-1.33],[0.044,-0.46],[0.044,0.61],[0.048,0.09],[0.048,1.99],[0.052,0.13],[0.055,0.50],[0.058,-0.48],[0.066,-1.50],[0.069,-0.46],[0.071,1.13],[0.071,-1.21],[0.082,-0.22],[0.088,-1.21],[0.091,-0.28],[0.093,0.13],[0.095,0.30],[0.098,0.0],[0.104,0.77],[0.109,0.36],[0.111,0.97],[0.111,-1.20],[0.112,-0.31],[0.115,-0.21],[0.118,0.09],[0.120,-0.04],[0.123,-0.13],[0.125,-0.21],[0.128,0.30],[0.131,0.09],[0.136,-1.84],[0.139,0.31],[0.145,0.46],[0.147,0.53],[0.158,-0.70],[0.163,-0.41],[0.174,1.86],[0.179,-1.54],[0.182,0.54],[0.188,0.73],[0.192,0.97],[0.199,-0.34],[0.203,0.06],[0.206,-0.48],[0.221,-1.45],[0.225,-1.45],[0.231,1.48],[0.234,-0.26],[0.236,0.16],[0.239,0.26],[0.241,-1.77],[0.255,-0.28],[0.261,2.31],[0.277,0.44],[0.282,0.13],[0.304,0.85],[0.306,-0.53],[0.334,-1.55],[0.331,-2.76],[0.356,-0.73],[0.379,-1.25],[0.382,-1.00],[0.396,-1.67],[0.401,0.26],[0.401,-1.09],[0.406,-1.36],[0.406,-1.55],[0.434,-1.43],[0.439,0.11],[0.455,-0.60],[0.461,-1.07],[0.554,-2.46]];
const P90_FIT = [[0,0],[0.01,0.01],[0.02,0.02],[0.03,0.029],[0.04,0.039],[0.05,0.047],[0.06,0.055],[0.07,0.063],[0.08,0.069],[0.09,0.074],[0.10,0.079],[0.11,0.082],[0.12,0.083],[0.13,0.084],[0.14,0.082],[0.15,0.079],[0.16,0.074],[0.17,0.068],[0.18,0.059],[0.19,0.048],[0.20,0.035],[0.21,0.019],[0.223,-0.005],[0.244,-0.053],[0.279,-0.161],[0.284,-0.18],[0.306,-0.272],[0.331,-0.397],[0.352,-0.52],[0.377,-0.69],[0.396,-0.838],[0.399,-0.86],[0.404,-0.906],[0.409,-0.948],[0.430,-1.142],[0.439,-1.233],[0.452,-1.371],[0.461,-1.47],[0.555,-2.78]];

// ---------------- LAYOUT / STYLE ----------------
const OBS = [P1_OBS,P2_OBS,P3_OBS,P4_OBS,P5_OBS,P86_OBS,P87_OBS,P88_OBS,P89_OBS,P90_OBS];
const FIT = [P1_FIT,P2_FIT,P3_FIT,P4_FIT,P5_FIT,P86_FIT,P87_FIT,P88_FIT,P89_FIT,P90_FIT];
const X_EXTENT = [[-0.05,1.05],[0.152,0.825],[0.152,0.7385],[0.1815,0.875],[-0.05,1.05],[-0.033,0.733],[-0.028,0.638],[-0.039,0.844],[-0.031,0.764],[-0.026,0.5815]];
const Y_EXTENT = [[-0.277,0.655],[0.059,0.640],[0.138,0.3615],[0.0795,0.426],[-0.411,0.725],[-1.865,1.633],[-3.68,3.366],[-295,68.8],[-58.9,13.2],[-3.03,2.54]];
const COL_LEFT = [68.5, 290.3, 525, 751.7, 989.5];
const PANEL_W = 187.6;
const ROW_TOP = [69, 401.8];
const ROW_H = [277.8, 276.6];
const STRIP_Y = [56.7, 388.5];
const ANN_X = [154.7, 380.5, 621.3, 841.7, 1086.2, 157.7, 386.5, 614.5, 835, 1079.5];
const ANN_Y = [326.7, 659];
const SANS = 'Liberation Sans, Arial, sans-serif';
const SERIF = 'Liberation Serif, Times New Roman, serif';

function toNum(s){ return parseFloat(s.replace('−','-')); }
function makeFormatter(labels){
  const vals = labels.map(toNum);
  return function(v){
    let best = 0, bd = Infinity;
    vals.forEach((t,i)=>{ const d=Math.abs(t-v); if(d<bd){bd=d;best=i;} });
    return labels[best];
  };
}

const grid=[], xAxis=[], yAxis=[], series=[], graphic=[];
for (let i=0;i<10;i++){
  const r = Math.floor(i/5), c = i%5;
  grid.push({left:COL_LEFT[c], top:ROW_TOP[r], width:PANEL_W, height:ROW_H[r], show:true, borderColor:'#333333', borderWidth:1, backgroundColor:'#ffffff', containLabel:false});
  const xv = X_TICK_LABELS[i].map(toNum), yv = Y_TICK_LABELS[i].map(toNum);
  xAxis.push({type:'value', gridIndex:i, min:X_EXTENT[i][0], max:X_EXTENT[i][1],
    axisLine:{show:false, onZero:false}, splitLine:{show:false},
    axisTick:{show:true, length:4, lineStyle:{color:'#333333', width:1}, customValues:xv},
    axisLabel:{customValues:xv, formatter:makeFormatter(X_TICK_LABELS[i]), color:'#4d4d4d', fontSize:12, fontFamily:SANS, margin:5}});
  yAxis.push({type:'value', gridIndex:i, min:Y_EXTENT[i][0], max:Y_EXTENT[i][1],
    axisLine:{show:false, onZero:false}, splitLine:{show:false},
    axisTick:{show:true, length:4, lineStyle:{color:'#333333', width:1}, customValues:yv},
    axisLabel:{customValues:yv, formatter:makeFormatter(Y_TICK_LABELS[i]), color:'#4d4d4d', fontSize:12, fontFamily:SANS, margin:7}});
  series.push({type:'scatter', xAxisIndex:i, yAxisIndex:i, data:OBS[i], symbolSize:6.5, silent:true, z:2,
    itemStyle:{color:'rgba(0,0,0,0.2)', borderWidth:0}});
  series.push({type:'scatter', xAxisIndex:i, yAxisIndex:i, data:FIT[i], symbolSize:3.6, silent:true, z:3,
    itemStyle:{color:'#ff0000', borderWidth:0}});
  graphic.push({type:'text', x:COL_LEFT[c]+PANEL_W/2, y:STRIP_Y[r], z:10,
    style:{text:PANEL_NAMES[i], fill:'#1a1a1a', font:'12px '+SANS, textAlign:'center', textVerticalAlign:'middle', align:'center', verticalAlign:'middle'}});
  graphic.push({type:'text', x:ANN_X[i], y:ANN_Y[r], z:10,
    style:{text:ANNOTATIONS[i], fill:'#0000ff', font:'19px '+SANS, textAlign:'center', textVerticalAlign:'middle', align:'center', verticalAlign:'middle'}});
}
graphic.push({type:'text', x:14, y:373, rotation:Math.PI/2, z:10,
  style:{text:'y', fill:'#000', font:'15px '+SANS, textAlign:'center', textVerticalAlign:'middle', align:'center', verticalAlign:'middle'}});
graphic.push({type:'text', x:622.5, y:709, z:10,
  style:{text:'x', fill:'#000', font:'15px '+SANS, textAlign:'center', textVerticalAlign:'middle', align:'center', verticalAlign:'middle'}});

const chart = echarts.init(document.getElementById('chart'), null, {renderer:'canvas'});
chart.setOption({
  animation:false,
  backgroundColor:'#ffffff',
  title:{
    text:'{b|Figure 18}{g|}{c|Cases with Largest Difference in Power, }{i|y}{o|  =  }{i|x}{o|  −  }{i|ax}{s|k}{b| Functions}',
    left:'center', top:6,
    textStyle:{rich:{
      b:{fontFamily:SANS, fontWeight:'bold', fontSize:22, color:'#000'},
      c:{fontFamily:SANS, fontWeight:'bold', fontSize:22.8, color:'#000'},
      g:{width:45},
      i:{fontFamily:SERIF, fontStyle:'italic', fontSize:23, color:'#000'},
      o:{fontFamily:SERIF, fontSize:23, color:'#000'},
      s:{fontFamily:SERIF, fontStyle:'italic', fontSize:16, color:'#000', verticalAlign:'top'}
    }}
  },
  grid, xAxis, yAxis, series, graphic
});
</script>
</body>
</html>
